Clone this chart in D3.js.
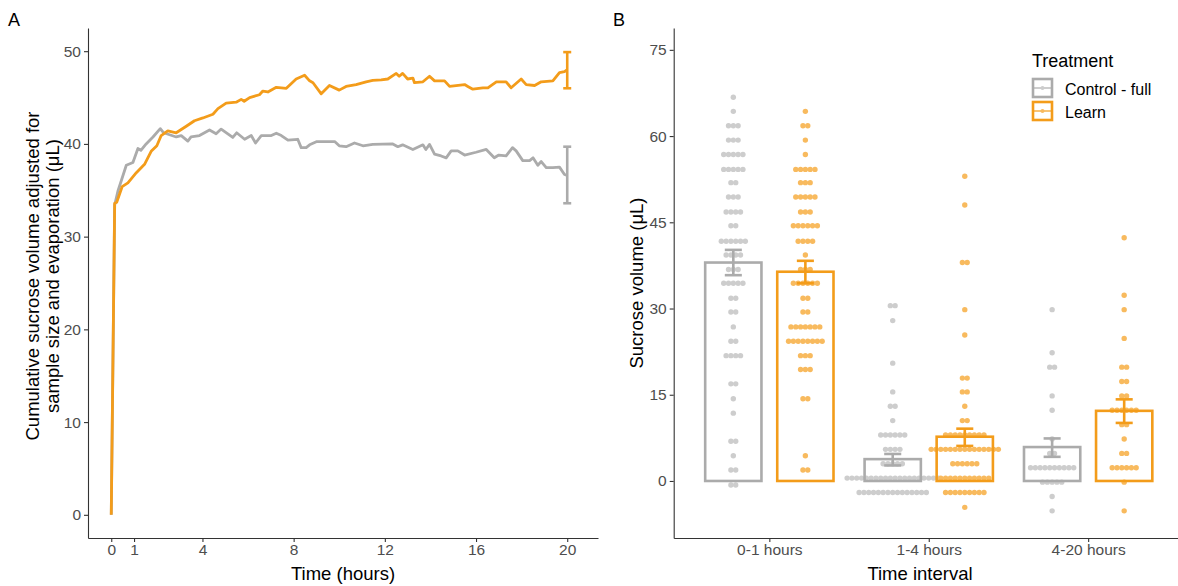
<!DOCTYPE html>
<html>
<head>
<meta charset="utf-8">
<script src="https://cdn.jsdelivr.net/npm/d3@7"></script>
<style>
  body { margin: 0; background: #fff; }
  svg { font-family: "Liberation Sans", Arial, sans-serif; }
</style>
</head>
<body>
<svg id="chart" width="1178" height="586"></svg>
<script>
// ---- Panel A data: cumulative sucrose volume over time [hours, µL]
const ctrlCurve = [[0,0],[0.15,33.4],[0.29,34.9],[0.66,37.7],[0.95,38.0],[1.17,39.5],[1.3,39.3],[1.53,40.0],[1.83,40.75],[2.15,41.65],[2.3,41.2],[2.85,40.75],[3.07,40.9],[3.36,40.3],[3.5,40.75],[3.87,40.9],[4.31,41.5],[4.6,41.1],[4.82,41.6],[5.33,40.7],[5.5,41.2],[5.85,40.5],[6.14,40.9],[6.33,40.1],[6.58,40.9],[7.02,40.9],[7.24,41.15],[7.46,40.9],[7.75,40.4],[8.18,40.5],[8.33,39.6],[8.55,39.6],[8.7,39.9],[9.02,40.25],[9.8,40.25],[10.0,39.8],[10.3,39.7],[10.67,40.1],[11.04,39.8],[11.47,39.95],[12.35,40.0],[12.57,39.7],[12.78,39.9],[13.23,39.4],[13.67,39.9],[13.8,39.4],[13.96,39.95],[14.18,38.9],[14.47,38.7],[14.69,38.5],[14.91,39.25],[15.2,39.25],[15.5,38.8],[16.0,39.1],[16.45,39.4],[16.8,38.5],[17.0,38.8],[17.32,38.7],[17.6,39.6],[17.76,39.25],[18.05,38.2],[18.35,38.2],[18.5,38.5],[18.71,37.7],[18.86,38.1],[19.08,37.45],[19.37,37.45],[19.66,37.5],[19.88,36.7],[20.0,36.6]];
const learnCurve = [[0,0],[0.15,33.6],[0.24,33.7],[0.48,35.4],[0.73,35.8],[1.1,36.9],[1.46,37.8],[1.75,39.2],[2.0,39.8],[2.19,40.9],[2.48,41.4],[2.85,41.2],[3.29,41.9],[3.65,42.5],[4.02,42.8],[4.46,43.2],[4.68,43.8],[5.04,44.4],[5.48,44.5],[5.7,44.8],[5.83,44.6],[6.07,45.0],[6.5,45.3],[6.65,45.7],[6.87,45.6],[7.24,46.1],[7.68,46.0],[8.11,47.0],[8.48,47.4],[8.7,46.8],[8.85,46.6],[9.21,45.4],[9.57,46.3],[10.0,45.8],[10.3,46.2],[10.74,46.4],[11.18,46.7],[11.47,46.85],[11.84,46.9],[12.13,47.0],[12.5,47.6],[12.63,47.3],[12.78,47.6],[13.0,47.0],[13.23,47.1],[13.3,46.6],[13.67,46.7],[13.96,47.3],[14.18,46.8],[14.62,46.8],[14.84,46.2],[15.5,46.4],[15.64,46.2],[15.86,45.9],[16.3,46.05],[16.52,46.05],[16.89,46.7],[17.32,46.7],[17.54,46.05],[17.98,47.0],[18.2,46.4],[18.57,46.3],[18.86,46.7],[19.37,46.8],[19.66,47.7],[19.88,47.8],[20.0,48.0]];
const endLow = [33.6, 46.0];   // error bar at 20 h: control, learn
const endHigh = [39.7, 49.9];
const timeTicks = [0, 1, 4, 8, 12, 16, 20];
const volTicks = [0, 10, 20, 30, 40, 50];

// ---- Panel B data
const intervals = ["0-1 hours", "1-4 hours", "4-20 hours"];
const treatments = ["Control - full", "Learn"];
const ctrlMean = [38.0, 3.8, 5.9];
const ctrlLow = [35.8, 2.7, 4.2];
const ctrlHigh = [40.2, 4.7, 7.4];
const learnMean = [36.4, 7.7, 12.2];
const learnLow = [34.4, 6.1, 10.1];
const learnHigh = [38.3, 9.1, 14.2];
const sucroseTicks = [0, 15, 30, 45, 60, 75];
// dot rows: [value, number of dots]
const ctrlDots01 = [[66.75,1],[64.3,1],[61.8,3],[59.3,3],[56.8,5],[54.2,5],[51.9,2],[49.4,3],[46.8,4],[44.4,2],[41.7,6],[39.3,4],[36.8,3],[34.4,5],[31.8,2],[29.4,2],[26.8,1],[24.3,2],[21.8,4],[16.9,2],[14.3,1],[11.8,1],[6.9,2],[4.4,1],[1.9,2],[-0.7,2]];
const learnDots01 = [[64.3,1],[61.8,2],[59.3,1],[56.8,1],[54.2,5],[51.9,3],[49.4,5],[46.8,3],[44.4,6],[41.7,4],[39.3,1],[36.8,3],[34.4,6],[31.8,2],[29.4,2],[26.8,7],[24.3,8],[21.8,3],[19.4,3],[14.3,2],[4.4,1],[1.9,2]];
const ctrlDots14 = [[30.5,2],[27.9,1],[20.5,1],[15.5,1],[13.0,2],[10.5,1],[8.0,6],[5.5,4],[3.0,5],[0.5,20],[-2.0,15]];
const learnDots14 = [[53.0,1],[48.0,1],[38.0,2],[29.8,1],[25.4,1],[17.9,2],[15.5,2],[13.0,1],[10.5,2],[8.0,9],[5.5,15],[3.0,6],[0.5,11],[-2.0,9],[-4.6,1]];
const ctrlDots420 = [[29.8,1],[22.3,1],[19.8,2],[14.8,1],[12.3,1],[7.3,1],[4.8,2],[2.3,10],[-0.2,5],[-2.7,1],[-5.2,1]];
const learnDots420 = [[42.3,1],[32.3,1],[29.8,1],[24.8,1],[19.8,2],[17.3,2],[14.8,2],[12.3,6],[9.8,2],[7.3,1],[4.8,2],[2.3,6],[-0.2,1],[-5.2,1]];

const grey = "#ABABAB";
const orange = "#F39C1A";
const greyDot = "#CDCDCD";
const orangeDot = "#F8BA5E";
const tickText = "#4D4D4D";

const svg = d3.select("#chart");

function styleAxis(g) {
    g.select(".domain").attr("stroke", "#333").attr("stroke-width", 1.1);
    g.selectAll(".tick line").attr("stroke", "#333").attr("stroke-width", 1.1);
    g.selectAll(".tick text").attr("fill", tickText).style("font-size", "15.5px");
}

// ================= Panel A =================
const xA = d3.scaleLinear().domain([-1.02, 21.35]).range([88, 598]);
const yA = d3.scaleLinear().domain([-2.5, 52.5]).range([538, 28]);

svg.append("g")
    .attr("transform", "translate(0,538)")
    .call(d3.axisBottom(xA).tickValues(timeTicks).tickSize(4).tickPadding(2).tickSizeOuter(0))
    .call(styleAxis);
svg.append("g")
    .attr("transform", "translate(88,0)")
    .call(d3.axisLeft(yA).tickValues(volTicks).tickSize(4).tickPadding(3).tickSizeOuter(0))
    .call(styleAxis);

const lineA = d3.line().x(d => xA(d[0])).y(d => yA(d[1]));
[[ctrlCurve, grey], [learnCurve, orange]].forEach(([data, col], i) => {
    svg.append("path")
        .datum(data)
        .attr("d", lineA)
        .attr("fill", "none")
        .attr("stroke", col)
        .attr("stroke-width", 2.8)
        .attr("stroke-linejoin", "round");
    const cx = xA(20);
    const g = svg.append("g").attr("stroke", col).attr("stroke-width", 2.6);
    g.append("line").attr("x1", cx).attr("x2", cx).attr("y1", yA(endLow[i])).attr("y2", yA(endHigh[i]));
    g.append("line").attr("x1", cx - 4).attr("x2", cx + 4).attr("y1", yA(endLow[i])).attr("y2", yA(endLow[i]));
    g.append("line").attr("x1", cx - 4).attr("x2", cx + 4).attr("y1", yA(endHigh[i])).attr("y2", yA(endHigh[i]));
});

svg.append("text").attr("x", 343).attr("y", 580).attr("text-anchor", "middle")
    .style("font-size", "18.5px").text("Time (hours)");
svg.append("text").attr("transform", "translate(32,276) rotate(-90)")
    .attr("text-anchor", "middle").attr("dominant-baseline", "central")
    .style("font-size", "18.5px").text("Cumulative sucrose volume adjusted for");
svg.append("text").attr("transform", "translate(52,276) rotate(-90)")
    .attr("text-anchor", "middle").attr("dominant-baseline", "central")
    .style("font-size", "18.5px").text("sample size and evaporation (\u03bcL)");
svg.append("text").attr("x", 8).attr("y", 26).style("font-size", "18px").text("A");

// ================= Panel B =================
const xB = d3.scalePoint().domain(intervals).range([673.7, 1183.8]).padding(0.6);
const yB = d3.scaleLinear().domain([-9.92, 78.8]).range([538, 28]);
const step = xB.step();
const dodge = 0.226 * step;
const barW = 0.353 * step;
const capW = 0.107 * step;
const dotStep = 4.8;

svg.append("g")
    .attr("transform", "translate(0,538)")
    .call(d3.axisBottom(xB).tickSize(4).tickPadding(2).tickSizeOuter(0))
    .call(styleAxis);
svg.append("g")
    .attr("transform", "translate(673.7,0)")
    .call(d3.axisLeft(yB).tickValues(sucroseTicks).tickSize(4).tickPadding(3).tickSizeOuter(0))
    .call(styleAxis);

const groups = [
    { mean: ctrlMean, low: ctrlLow, high: ctrlHigh, dots: [ctrlDots01, ctrlDots14, ctrlDots420], col: grey, dotCol: greyDot, off: -dodge },
    { mean: learnMean, low: learnLow, high: learnHigh, dots: [learnDots01, learnDots14, learnDots420], col: orange, dotCol: orangeDot, off: dodge }
];

// dots
groups.forEach(grp => {
    const pts = [];
    intervals.forEach((iv, k) => {
        const cx = xB(iv) + grp.off;
        grp.dots[k].forEach(([v, n]) => {
            for (let j = 0; j < n; j++) pts.push([cx + (j - (n - 1) / 2) * dotStep, v]);
        });
    });
    svg.append("g").selectAll("circle")
        .data(pts)
        .enter()
        .append("circle")
        .attr("cx", d => d[0])
        .attr("cy", d => yB(d[1]))
        .attr("r", 2.7)
        .attr("fill", grp.dotCol);
});

// bars and error bars
groups.forEach(grp => {
    svg.append("g").selectAll("rect")
        .data(intervals)
        .enter()
        .append("rect")
        .attr("x", d => xB(d) + grp.off - barW / 2)
        .attr("y", (d, i) => yB(grp.mean[i]))
        .attr("width", barW)
        .attr("height", (d, i) => yB(0) - yB(grp.mean[i]))
        .attr("fill", "none")
        .attr("stroke", grp.col)
        .attr("stroke-width", 2.6);
    const eb = svg.append("g").attr("stroke", grp.col).attr("stroke-width", 2.6);
    intervals.forEach((iv, i) => {
        const cx = xB(iv) + grp.off;
        eb.append("line").attr("x1", cx).attr("x2", cx).attr("y1", yB(grp.low[i])).attr("y2", yB(grp.high[i]));
        eb.append("line").attr("x1", cx - capW / 2).attr("x2", cx + capW / 2).attr("y1", yB(grp.low[i])).attr("y2", yB(grp.low[i]));
        eb.append("line").attr("x1", cx - capW / 2).attr("x2", cx + capW / 2).attr("y1", yB(grp.high[i])).attr("y2", yB(grp.high[i]));
    });
});

svg.append("text").attr("x", 920).attr("y", 580).attr("text-anchor", "middle")
    .style("font-size", "18.5px").text("Time interval");
svg.append("text").attr("transform", "translate(636,283) rotate(-90)")
    .attr("text-anchor", "middle").attr("dominant-baseline", "central")
    .style("font-size", "18.5px").text("Sucrose volume (\u03bcL)");
svg.append("text").attr("x", 613).attr("y", 26).style("font-size", "18px").text("B");

// legend
const legend = svg.append("g").attr("transform", "translate(1032,0)");
legend.append("text").attr("x", 0).attr("y", 67).style("font-size", "18px").text("Treatment");
groups.forEach((grp, i) => {
    const y0 = 79 + i * 23;
    const k = legend.append("g");
    k.append("rect").attr("x", 1).attr("y", y0).attr("width", 19).attr("height", 18)
        .attr("fill", "none").attr("stroke", grp.col).attr("stroke-width", 2.6);
    k.append("line").attr("x1", 1).attr("x2", 20).attr("y1", y0 + 9).attr("y2", y0 + 9)
        .attr("stroke", grp.col).attr("stroke-width", 1.2);
    k.append("circle").attr("cx", 10.5).attr("cy", y0 + 9).attr("r", 2).attr("fill", grp.dotCol);
    legend.append("text").attr("x", 33).attr("y", y0 + 10).attr("dominant-baseline", "central")
        .style("font-size", "16px").text(treatments[i]);
});
</script>
</body>
</html>
